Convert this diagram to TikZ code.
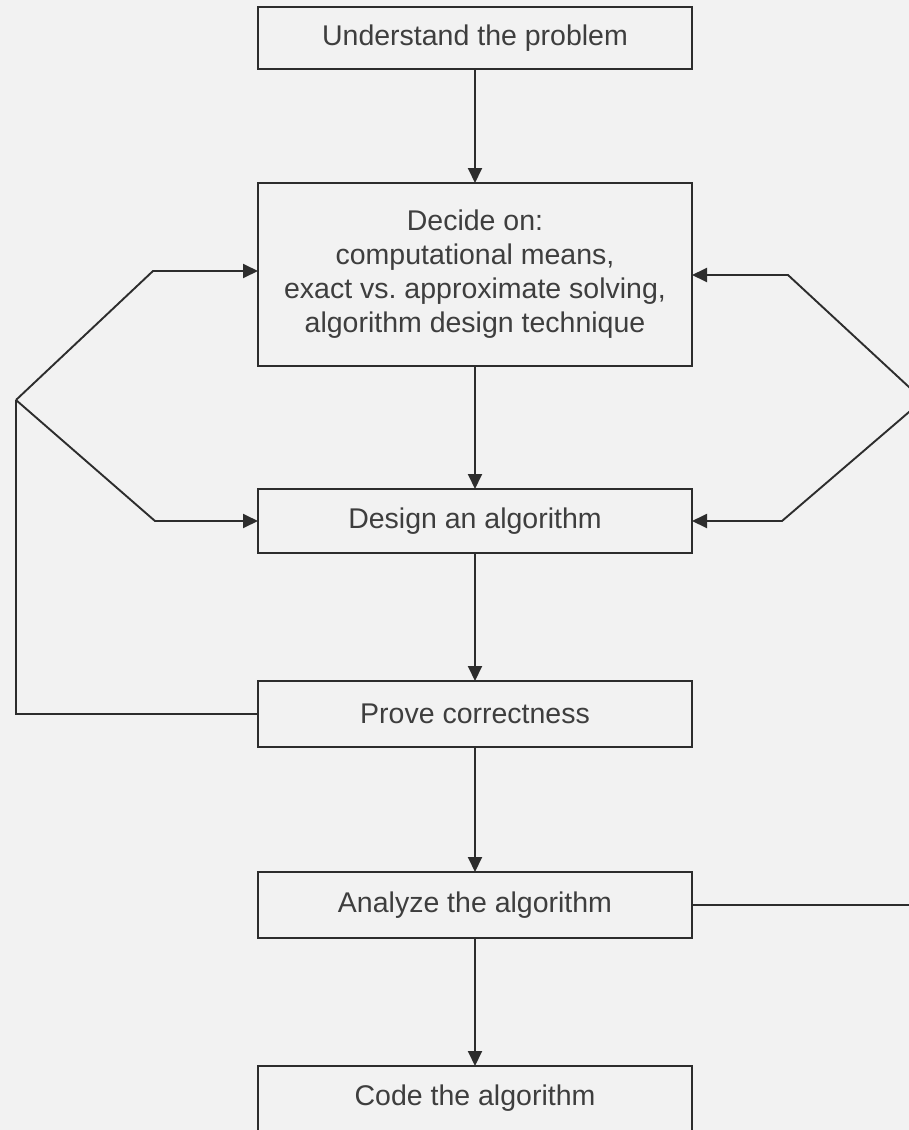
\documentclass[tikz,border=0pt]{standalone}
\usepackage{fontspec}
\setmainfont{Liberation Sans}
\usetikzlibrary{arrows.meta}
\definecolor{bg}{RGB}{242,242,242}
\definecolor{ink}{RGB}{45,45,45}
\definecolor{txt}{RGB}{62,62,62}
\begin{document}
\begin{tikzpicture}[x=1pt,y=-1pt,
  stepbox/.style={draw=ink, line width=2.4pt, minimum width=434pt, inner sep=0pt, outer sep=0pt,
    font=\fontsize{28.5}{34}\selectfont, text=txt, align=center, anchor=north},
  flow/.style={draw=ink, line width=1.9pt, -{Triangle[length=15pt,width=14pt]}},
  link/.style={draw=ink, line width=1.9pt}]
\useasboundingbox (0,0) rectangle (909,1130);
\fill[bg] (0,0) rectangle (909,1130);
\begin{scope}
\clip (0,0) rectangle (909,1130);

% the six steps
\node[stepbox, minimum height=62pt]  (understand) at (475,7)    {Understand the problem};
\node[stepbox, minimum height=183pt] (decide)     at (475,183)  {Decide on:\\computational means,\\exact vs.\ approximate solving,\\algorithm design technique};
\node[stepbox, minimum height=64pt]  (design)     at (475,489)  {Design an algorithm};
\node[stepbox, minimum height=66pt]  (prove)      at (475,681)  {Prove correctness};
\node[stepbox, minimum height=66pt]  (analyze)    at (475,872)  {Analyze the algorithm};
\node[stepbox, minimum height=65pt]  (code)       at (475,1066) {Code the algorithm};

% main sequence
\draw[flow] (understand.south) -- (decide.north);
\draw[flow] (decide.south) -- (design.north);
\draw[flow] (design.south) -- (prove.north);
\draw[flow] (prove.south) -- (analyze.north);
\draw[flow] (analyze.south) -- (code.north);

% feedback from proving correctness
\coordinate (lsplit) at (16,400);
\draw[link] (prove.west) -- (prove.west -| lsplit) -- (lsplit);
\draw[flow] (lsplit) -- (153,271) -- (decide.west |- 0,271);
\draw[flow] (lsplit) -- (design.west -| 155,0) -- (design.west);

% feedback from analysis
\coordinate (rsplit) at (923,400);
\draw[link] (analyze.east) -- (analyze.east -| rsplit) -- (rsplit);
\draw[flow] (rsplit) -- (788,275) -- (decide.east |- 0,275);
\draw[flow] (rsplit) -- (design.east -| 782,0) -- (design.east);
\end{scope}
\end{tikzpicture}
\end{document}
